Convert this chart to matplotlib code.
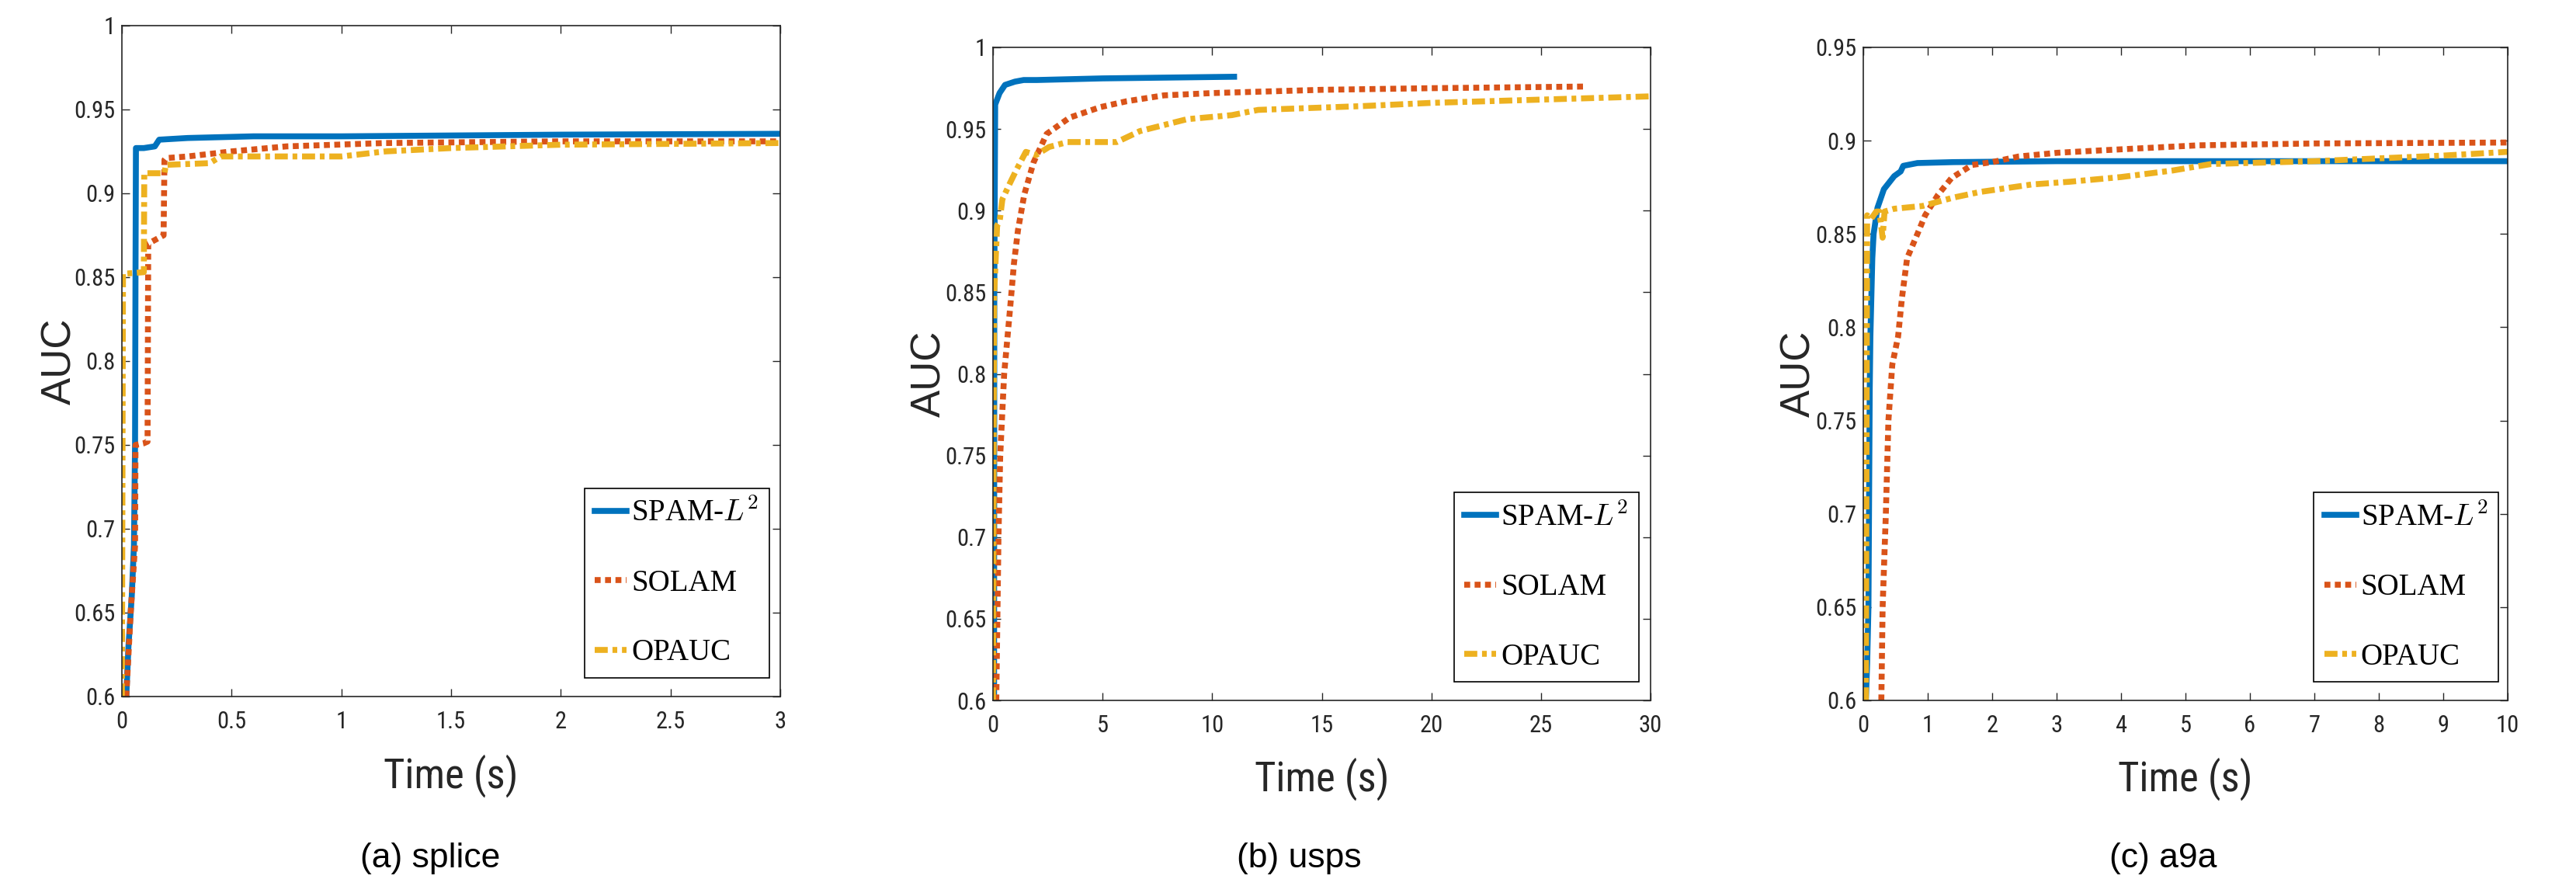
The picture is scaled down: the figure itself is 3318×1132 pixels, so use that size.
import matplotlib
matplotlib.use('Agg')
import matplotlib.pyplot as plt
from matplotlib import font_manager

plt.rcParams['mathtext.fontset'] = 'cm'

# colores por defecto de matlab
c_spam = '#0072BD'
c_solam = '#D95319'
c_opauc = '#EDB120'

nombres = ['SPAM-$L^2$', 'SOLAM', 'OPAUC']
titulos = ['(a) splice', '(b) usps', '(c) a9a']

# (a) splice
t_spam_a = [0.02, 0.03, 0.045, 0.055, 0.06, 0.062, 0.064, 0.1, 0.15, 0.17, 0.3, 0.6, 1.0, 2.0, 3.0]
auc_spam_a = [0.6, 0.63, 0.66, 0.69, 0.75, 0.85, 0.927, 0.927, 0.928, 0.932, 0.933, 0.934, 0.934, 0.935, 0.9355]
t_solam_a = [0.02, 0.04, 0.06, 0.062, 0.1, 0.117, 0.12, 0.19, 0.194, 0.2, 0.3, 0.5, 0.75, 1.2, 2.0, 3.0]
auc_solam_a = [0.6, 0.65, 0.69, 0.75, 0.751, 0.752, 0.87, 0.875, 0.92, 0.921, 0.922, 0.925, 0.928, 0.93, 0.931, 0.931]
t_opauc_a = [0.0, 0.005, 0.1, 0.102, 0.194, 0.2, 0.4, 0.45, 1.0, 1.2, 1.5, 2.0, 3.0]
auc_opauc_a = [0.6, 0.852, 0.853, 0.912, 0.912, 0.917, 0.918, 0.922, 0.922, 0.925, 0.927, 0.929, 0.930]

# (b) usps
t_spam_b = [0.05, 0.06, 0.1, 0.3, 0.55, 1.0, 1.4, 2.0, 5.0, 8.0, 11.0]
auc_spam_b = [0.6, 0.85, 0.965, 0.972, 0.977, 0.979, 0.980, 0.980, 0.981, 0.9815, 0.982]
t_solam_b = [0.15, 0.25, 0.33, 0.51, 0.78, 0.96, 1.14, 1.43, 1.85, 2.45, 3.5, 4.9, 6.1, 7.8, 10.0, 15.0, 20.0, 27.0]
auc_solam_b = [0.6, 0.7, 0.75, 0.8, 0.84, 0.868, 0.888, 0.91, 0.9295, 0.947, 0.957, 0.9634, 0.967, 0.9706, 0.972, 0.974, 0.975, 0.976]
t_opauc_b = [0.0, 0.05, 0.19, 0.3, 0.43, 0.78, 1.07, 1.5, 1.96, 2.56, 3.4, 5.65, 6.7, 8.85, 10.9, 12.1, 16.8, 20.0, 25.0, 30.0]
auc_opauc_b = [0.6, 0.847, 0.891, 0.893, 0.907, 0.917, 0.925, 0.936, 0.934, 0.939, 0.942, 0.942, 0.9487, 0.956, 0.9585, 0.9617, 0.964, 0.966, 0.968, 0.970]

# (c) a9a
t_spam_c = [0.04, 0.06, 0.08, 0.1, 0.11, 0.14, 0.16, 0.22, 0.32, 0.48, 0.58, 0.62, 0.84, 1.4, 3.0, 6.0, 10.0]
auc_spam_c = [0.6, 0.62, 0.65, 0.767, 0.795, 0.837, 0.85, 0.864, 0.874, 0.881, 0.8835, 0.8865, 0.888, 0.8885, 0.889, 0.889, 0.889]
t_solam_c = [0.28, 0.30, 0.35, 0.39, 0.45, 0.54, 0.60, 0.68, 0.84, 0.96, 1.16, 1.37, 1.69, 2.0, 2.41, 3.01, 3.8, 5.2, 7.0, 10.0]
auc_solam_c = [0.6, 0.65, 0.7, 0.75, 0.78, 0.795, 0.8157, 0.837, 0.85, 0.86, 0.871, 0.88, 0.887, 0.8885, 0.8915, 0.8935, 0.895, 0.8975, 0.8985, 0.899]
t_opauc_c = [0.04, 0.06, 0.12, 0.2, 0.25, 0.3, 0.33, 0.48, 0.92, 1.4, 1.81, 2.61, 3.21, 4.0, 4.8, 5.4, 7.0, 8.0, 9.0, 10.0]
auc_opauc_c = [0.6, 0.86, 0.858, 0.862, 0.862, 0.848, 0.862, 0.8635, 0.865, 0.8695, 0.8725, 0.8765, 0.878, 0.8805, 0.884, 0.8875, 0.889, 0.8905, 0.892, 0.894]

xticks_a = [0, 0.5, 1, 1.5, 2, 2.5, 3]
xticks_b = [0, 5, 10, 15, 20, 25, 30]
xticks_c = [0, 1, 2, 3, 4, 5, 6, 7, 8, 9, 10]
yticks_ab = [0.6, 0.65, 0.7, 0.75, 0.8, 0.85, 0.9, 0.95, 1.0]
yticks_c = [0.6, 0.65, 0.7, 0.75, 0.8, 0.85, 0.9, 0.95]

# fuente angosta si existe (matlab se ve comprimido)
disponibles = {f.name for f in font_manager.fontManager.ttflist}
fuente = 'Liberation Sans'
for cand in ['Liberation Sans Narrow', 'DejaVu Sans Condensed', 'Roboto Condensed', 'Open Sans Condensed']:
    if cand in disponibles:
        fuente = cand
        break
angosta = fuente != 'Liberation Sans'

W, H = 3318, 1132
fig = plt.figure(figsize=(W / 100, H / 100), dpi=100)

# posiciones en pixeles (izq, der, arriba, abajo)
cajas = [(157, 1005, 33, 897), (1279, 2126, 61, 902), (2400, 3230, 61, 902)]
centros_tit = [554, 1673, 2786]
ylab_x = [-0.064, -0.067, -0.070]
xlab_y = [-0.086, -0.087, -0.087]
leg_x = [0.983, 0.982, 0.986]

datos = [
    ((t_spam_a, auc_spam_a), (t_solam_a, auc_solam_a), (t_opauc_a, auc_opauc_a), xticks_a, yticks_ab, 3, 1.0),
    ((t_spam_b, auc_spam_b), (t_solam_b, auc_solam_b), (t_opauc_b, auc_opauc_b), xticks_b, yticks_ab, 30, 1.0),
    ((t_spam_c, auc_spam_c), (t_solam_c, auc_solam_c), (t_opauc_c, auc_opauc_c), xticks_c, yticks_c, 10, 0.95),
]

gris = '#262626'

for i, (s, so, op, xt, yt, xmax, ymax) in enumerate(datos):
    l, r, t, b = cajas[i]
    ax = fig.add_axes([l / W, 1 - b / H, (r - l) / W, (b - t) / H])
    ax.plot(s[0], s[1], color=c_spam, lw=5.5, solid_joinstyle='round', label=nombres[0])
    ax.plot(so[0], so[1], color=c_solam, lw=5.5, linestyle=(0, (1, 0.75)), label=nombres[1])
    ax.plot(op[0], op[1], color=c_opauc, lw=5.5, linestyle=(0, (2.2, 0.8, 0.8, 0.8)), label=nombres[2])
    ax.set_xlim(0, xmax)
    ax.set_ylim(0.6, ymax)
    ax.set_xticks(xt)
    ax.set_xticklabels(['%g' % v for v in xt])
    ax.set_yticks(yt)
    ax.set_yticklabels(['%g' % v for v in yt])
    ax.tick_params(direction='in', length=7, width=1, top=True, right=True,
                   colors=gris, labelsize=22 if angosta else 20)
    ax.tick_params(axis='x', pad=13)
    ax.tick_params(axis='y', pad=6)
    for lab in ax.get_xticklabels() + ax.get_yticklabels():
        lab.set_family(fuente)
    for sp in ax.spines.values():
        sp.set_color(gris)
        sp.set_linewidth(1.2)
    ax.set_xlabel('Time (s)', fontsize=38 if angosta else 35, family=fuente, color=gris)
    ax.xaxis.set_label_coords(0.5, xlab_y[i])
    ax.set_ylabel('AUC', fontsize=38, family='Liberation Sans', color=gris)
    ax.yaxis.set_label_coords(ylab_x[i], 0.5)
    leg = ax.legend(loc='lower right', bbox_to_anchor=(leg_x[i], 0.028),
                    prop={'family': 'Liberation Serif', 'size': 28},
                    handlelength=1.05, handletextpad=0.15, borderpad=0.35,
                    labelspacing=1.35, borderaxespad=0, fancybox=False,
                    framealpha=1, edgecolor='black')
    leg.get_frame().set_linewidth(1.2)
    fig.text(centros_tit[i] / W, 1 - 1105 / H, titulos[i], fontsize=32,
             family='Liberation Sans', ha='center', va='center')

fig.savefig('out.png', dpi=100)
